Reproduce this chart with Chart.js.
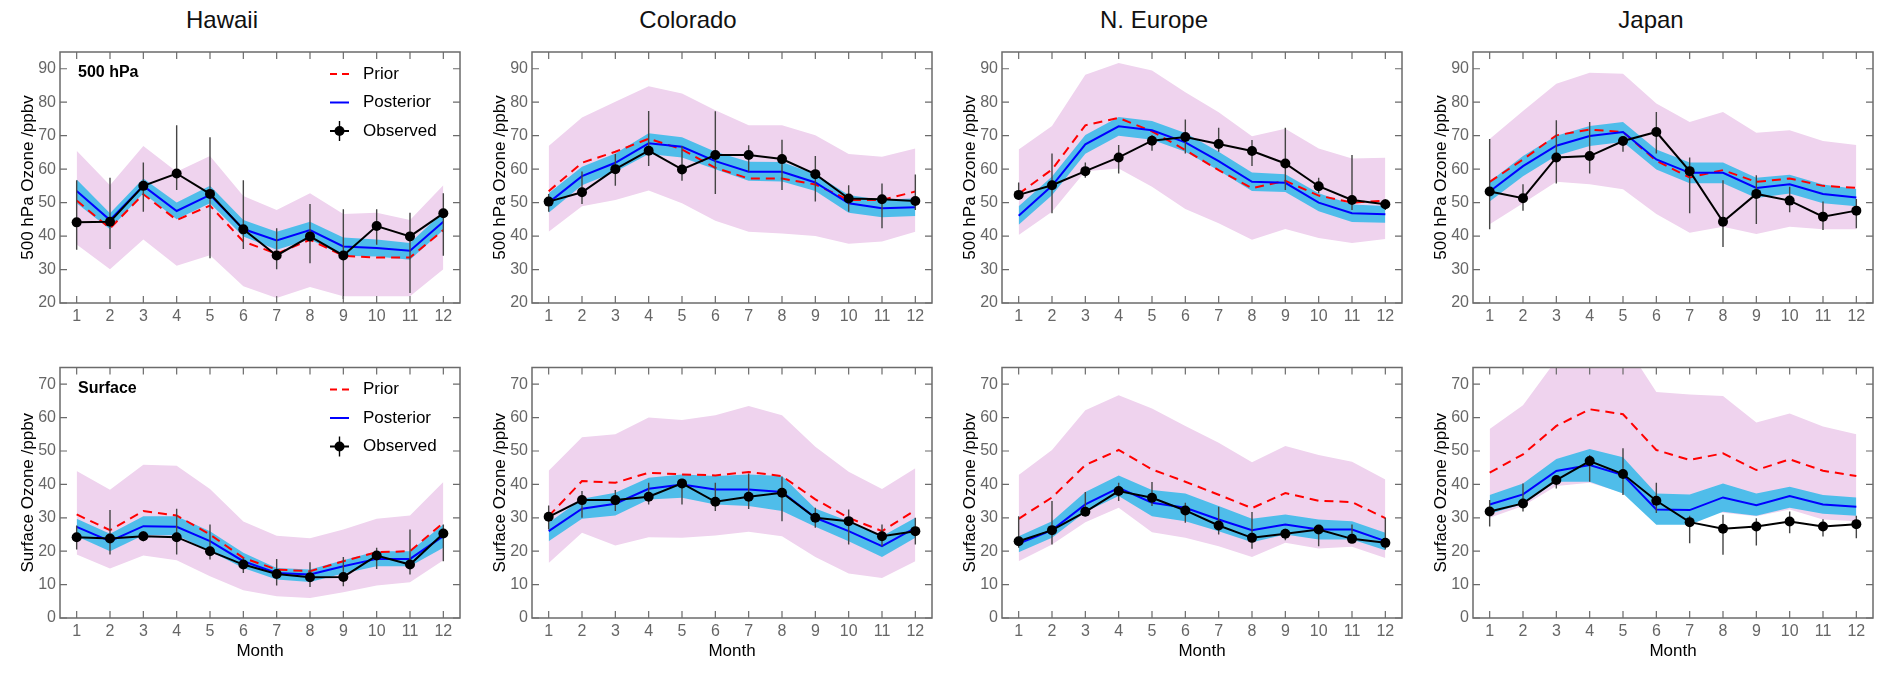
<!DOCTYPE html>
<html><head><meta charset="utf-8">
<script src="https://cdn.jsdelivr.net/npm/chart.js@4.4.1/dist/chart.umd.min.js"></script>
<style>
body{margin:0;background:#fff;width:1892px;height:676px;position:relative;overflow:hidden;font-family:'Liberation Sans',Arial,sans-serif}
canvas{position:absolute}
.ttl{position:absolute;top:6px;font-size:24px;color:#111;transform:translateX(-50%);white-space:nowrap;line-height:28px}
</style></head><body>
<script>
// ---------- DATA ----------
const months = ['1','2','3','4','5','6','7','8','9','10','11','12'];
const regions = ['Hawaii', 'Colorado', 'N. Europe', 'Japan'];
const yTicks500 = [20, 30, 40, 50, 60, 70, 80, 90];
const yTicksSfc = [0, 10, 20, 30, 40, 50, 60, 70];

// Hawaii 500 hPa
const hi500PriorHi = [65.5, 55.2, 66.9, 59.2, 63.9, 52, 47.8, 52.8, 46.6, 47, 44.8, 55.2];
const hi500PriorLo = [37.5, 30.1, 39, 31.1, 34.3, 25, 21.5, 24.8, 22, 22, 22, 30.1];
const hi500PostHi = [56.9, 46.8, 57.2, 50, 55, 44.8, 41.3, 44.3, 39.6, 39, 37.9, 47.3];
const hi500PostLo = [49.8, 42, 52.8, 45, 49.8, 39.9, 35.9, 39, 34.1, 33.9, 32.9, 41.8];
const hi500Prior = [50.6, 42.3, 52.5, 44.8, 49.1, 38.4, 34.7, 38.9, 34.1, 33.6, 33.6, 41.8];
const hi500Post = [53.5, 44.8, 55, 47.5, 52.3, 42.1, 38.7, 41.8, 36.9, 36.4, 35.6, 44.3];
const hi500Obs = [44.1, 44.3, 55, 58.7, 52.6, 42, 34.2, 39.9, 34.2, 43, 39.9, 46.8];
const hi500ObsHi = [56.7, 57.4, 62, 73.1, 69.5, 56.7, 42.3, 49.6, 48, 48, 47, 52.8];
const hi500ObsLo = [35.9, 36.1, 47.3, 53.8, 33.4, 36.1, 30.1, 31.9, 21.2, 37.4, 23, 34.1];

// Colorado 500 hPa
const co500PriorHi = [66.9, 75.4, 80.1, 84.8, 82.6, 77.6, 73.1, 73.1, 70.1, 64.5, 63.7, 66.2];
const co500PriorLo = [41.3, 48.9, 50.8, 53.6, 49.8, 44.6, 41.3, 40.8, 40, 37.7, 38.4, 41.3];
const co500PostHi = [52.8, 60.7, 64.7, 70.7, 69.5, 65.2, 62.2, 62.1, 58.5, 52.3, 50.8, 51.3];
const co500PostLo = [47, 55.2, 59.2, 64.5, 63.5, 60, 56.5, 56.3, 53.5, 47, 45.6, 46];
const co500Prior = [53.4, 61.9, 65.2, 69.1, 65.9, 60.4, 57.2, 57.2, 55.4, 50.8, 50.8, 53.3];
const co500Post = [50, 57.9, 61.9, 67.7, 66.7, 62.4, 59.2, 59.2, 56, 49.8, 48.3, 48.6];
const co500Obs = [50.3, 53.1, 60, 65.5, 59.9, 64.2, 64.2, 63, 58.5, 51.2, 51, 50.5];
const co500ObsHi = [52.6, 59.3, 64.5, 77.4, 66.9, 77.3, 67.1, 68.8, 63.9, 55.2, 55.7, 58.4];
const co500ObsLo = [47.3, 49.6, 55, 60.9, 56.5, 52.6, 59.2, 53.8, 50.3, 47.3, 42.3, 47.8];

// N. Europe 500 hPa
const eu500PriorHi = [65.9, 72.9, 88.2, 91.7, 89.5, 83, 77, 69.8, 72.1, 66.2, 63.2, 63.4];
const eu500PriorLo = [40.3, 47.3, 59.4, 60.2, 54.7, 48.1, 43.8, 38.9, 42.1, 39.4, 37.9, 39.1];
const eu500PostHi = [48.9, 57.8, 70.2, 75.6, 74.4, 70.8, 65.2, 59, 58.5, 52.8, 49.4, 49];
const eu500PostLo = [43.4, 52.2, 64.6, 70, 68.8, 65.2, 59.6, 53.5, 53.2, 47.4, 44.2, 44];
const eu500Prior = [52.6, 59.9, 73.1, 75.3, 71.3, 65.7, 59.7, 54.3, 56.5, 52.1, 50, 50.6];
const eu500Post = [46.1, 55, 67.4, 72.8, 71.6, 68, 62.4, 56.2, 55.9, 50, 46.8, 46.5];
const eu500Obs = [52.3, 55.2, 59.4, 63.5, 68.5, 69.6, 67.5, 65.4, 61.7, 54.9, 50.8, 49.5];
const eu500ObsHi = [56, 64.7, 62, 67.2, 70.2, 74.8, 72.4, 68.7, 72.4, 57.4, 64.2, 51];
const eu500ObsLo = [51, 46.8, 57.4, 58.7, 65.5, 64.7, 65.2, 60.9, 53.8, 52.8, 47.8, 47.8];

// Japan 500 hPa
const jp500PriorHi = [69, 77.4, 85.5, 88.8, 88.5, 79.6, 74.1, 77.1, 70.9, 71.6, 68.4, 67.2];
const jp500PriorLo = [43.5, 49.8, 56.2, 55.5, 54, 46.6, 41, 42.8, 40.6, 42.8, 42, 42];
const jp500PostHi = [56.3, 63.9, 70, 72.9, 74.1, 65.9, 62, 62, 57.4, 58.3, 55.4, 54.1];
const jp500PostLo = [50.3, 57.9, 64, 66.9, 68.1, 59.9, 55.8, 55.8, 51.4, 52.7, 49.8, 48.9];
const jp500Prior = [56.2, 62.9, 70.1, 71.8, 71.1, 62.5, 57.5, 59.7, 56.2, 57.2, 55, 54.4];
const jp500Post = [53.3, 60.9, 67, 69.9, 71.1, 62.9, 58.9, 58.9, 54.4, 55.5, 52.6, 51.5];
const jp500Obs = [53.3, 51.3, 63.5, 63.9, 68.4, 71.1, 59.4, 44.3, 52.6, 50.6, 45.8, 47.6];
const jp500ObsHi = [69, 55.5, 74.6, 74.1, 69.6, 77.1, 63.5, 56.7, 58.2, 54.7, 50.3, 51.1];
const jp500ObsLo = [42, 47.6, 55.7, 58.7, 65.2, 64.7, 46.8, 36.7, 43.6, 47.1, 41.8, 42.3];

// Hawaii surface
const hiSfcPriorHi = [44, 38.4, 45.9, 45.6, 38.6, 28.9, 24.6, 23.9, 26.5, 29.7, 30.7, 40.7];
const hiSfcPriorLo = [19, 14.8, 18.7, 17.3, 12.5, 8.3, 6.5, 6, 7.7, 9.7, 10.7, 17.3];
const hiSfcPostHi = [29.7, 25.2, 30.5, 30.5, 26, 19.5, 15, 14.5, 17.3, 20, 20, 28];
const hiSfcPostLo = [24.5, 20, 24.8, 24.8, 20, 15, 11.5, 10.8, 13.3, 15.5, 15.5, 21];
const hiSfcPrior = [31, 26.3, 32, 30.7, 25, 18, 14.5, 14, 17, 19.7, 20, 28.5];
const hiSfcPost = [27.3, 23, 27.5, 27.3, 23, 17, 13.5, 13, 15.5, 17.7, 17.7, 24.5];
const hiSfcObs = [24.2, 23.8, 24.5, 24.2, 20, 16, 13.2, 12.2, 12.3, 18.7, 16, 25.3];
const hiSfcObsHi = [27.7, 32.3, 26, 32.7, 28, 18, 17.7, 16.7, 18.3, 21, 26.5, 28];
const hiSfcObsLo = [20.5, 19, 23, 19, 17.5, 13.5, 9.7, 9.3, 9.5, 14.7, 13, 17];

// Colorado surface
const coSfcPriorHi = [44.1, 54.1, 55, 60, 59.3, 60.7, 63.5, 60.7, 51.3, 43.8, 38.6, 44.8];
const coSfcPriorLo = [16.5, 25.5, 21.7, 24.2, 24, 24.7, 25.8, 24.5, 18.3, 13.3, 12, 17];
const coSfcPostHi = [28.5, 35.7, 37.5, 42, 43, 42.5, 43, 42.5, 32.8, 29, 24.5, 30];
const coSfcPostLo = [23, 29.7, 30.7, 35.5, 36, 34, 33.5, 32, 27.3, 23, 18.3, 24];
const coSfcPrior = [30.5, 41, 40.5, 43.5, 43, 42.7, 43.7, 42.5, 35.5, 30, 26, 32.3];
const coSfcPost = [26, 32.7, 34.2, 38.7, 40, 38.5, 38.5, 37.7, 30, 26, 21.5, 27];
const coSfcObs = [30.3, 35.3, 35.3, 36.3, 40.3, 34.8, 36.3, 37.5, 30, 29, 24.5, 26];
const coSfcObsHi = [33.7, 38, 38.3, 40.5, 41.5, 40.5, 43.3, 42.3, 33, 32.5, 28, 30];
const coSfcObsLo = [26.5, 30, 32, 34, 34, 32, 32.6, 29, 27, 22, 21.5, 22];

// N. Europe surface
const euSfcPriorHi = [42.8, 50.3, 62.2, 66.7, 62.7, 57.5, 52.5, 46.6, 51.5, 48.8, 46.8, 41.5];
const euSfcPriorLo = [17, 22, 28.7, 33, 25.7, 24, 21.5, 18.3, 22.5, 20.8, 21.3, 18];
const euSfcPostHi = [24.5, 29, 37.7, 42.7, 38.3, 37.3, 33.5, 29.7, 31, 29.5, 29, 25.5];
const euSfcPostLo = [19.7, 24, 31.7, 36.5, 30.5, 29, 26, 22.7, 25, 23.5, 23.5, 20.3];
const euSfcPrior = [29.7, 36.1, 45.8, 50.3, 44.5, 40.8, 36.9, 32.9, 37.4, 35.1, 34.7, 29.9];
const euSfcPost = [22.3, 26.3, 34, 39, 34.5, 33, 29.5, 26.3, 28, 26.5, 26.5, 23];
const euSfcObs = [23, 26.3, 31.8, 38, 36, 32.2, 27.7, 24, 25.2, 26.5, 23.7, 22.5];
const euSfcObsHi = [30.5, 35, 37.7, 40.5, 40.7, 34.5, 33.3, 31.7, 26.7, 27.5, 28, 30];
const euSfcObsLo = [21, 22, 31, 35, 33.5, 28.5, 25, 20.7, 23.3, 21.5, 22.7, 20.5];

// Japan surface
const jpSfcPriorHi = [56.6, 63.7, 77.3, 82, 83, 67.7, 66.9, 66.5, 58.5, 61.2, 57.3, 55];
const jpSfcPriorLo = [30, 33.5, 39.5, 40.5, 37.5, 33.5, 32.8, 31.5, 30.5, 32.5, 29.5, 29];
const jpSfcPostHi = [36.8, 40.3, 47.6, 50.6, 48.1, 37.3, 37, 40.3, 37.3, 39.3, 36.8, 36.1];
const jpSfcPostLo = [31.2, 34.1, 40.8, 40.8, 37.3, 27.9, 27.9, 31.8, 30.6, 33, 31.2, 30.6];
const jpSfcPrior = [43.5, 49, 57.5, 62.5, 61, 50.3, 47.3, 49.3, 44.3, 47.5, 44.1, 42.5];
const jpSfcPost = [34, 37, 44, 45.8, 42.8, 32.5, 32.3, 36.1, 33.8, 36.5, 34, 33.3];
const jpSfcObs = [31.9, 34.3, 41.3, 47, 43.1, 35.1, 28.7, 26.7, 27.4, 28.9, 27.4, 28.1];
const jpSfcObsHi = [35.3, 40.3, 42.8, 48.8, 50.8, 40.5, 30.6, 30.9, 29.9, 31.9, 29.6, 30.6];
const jpSfcObsLo = [27.4, 31.9, 38.8, 40.8, 36.8, 31.4, 22.4, 18.9, 21.7, 25.4, 24.4, 23.9];

// ---------- PANELS ----------
const panels = [
  {row:0,col:0,s:[hi500PriorHi,hi500PriorLo,hi500PostHi,hi500PostLo,hi500Prior,hi500Post,hi500Obs,hi500ObsHi,hi500ObsLo],legend:'500 hPa'},
  {row:0,col:1,s:[co500PriorHi,co500PriorLo,co500PostHi,co500PostLo,co500Prior,co500Post,co500Obs,co500ObsHi,co500ObsLo]},
  {row:0,col:2,s:[eu500PriorHi,eu500PriorLo,eu500PostHi,eu500PostLo,eu500Prior,eu500Post,eu500Obs,eu500ObsHi,eu500ObsLo]},
  {row:0,col:3,s:[jp500PriorHi,jp500PriorLo,jp500PostHi,jp500PostLo,jp500Prior,jp500Post,jp500Obs,jp500ObsHi,jp500ObsLo]},
  {row:1,col:0,s:[hiSfcPriorHi,hiSfcPriorLo,hiSfcPostHi,hiSfcPostLo,hiSfcPrior,hiSfcPost,hiSfcObs,hiSfcObsHi,hiSfcObsLo],legend:'Surface'},
  {row:1,col:1,s:[coSfcPriorHi,coSfcPriorLo,coSfcPostHi,coSfcPostLo,coSfcPrior,coSfcPost,coSfcObs,coSfcObsHi,coSfcObsLo]},
  {row:1,col:2,s:[euSfcPriorHi,euSfcPriorLo,euSfcPostHi,euSfcPostLo,euSfcPrior,euSfcPost,euSfcObs,euSfcObsHi,euSfcObsLo]},
  {row:1,col:3,s:[jpSfcPriorHi,jpSfcPriorLo,jpSfcPostHi,jpSfcPostLo,jpSfcPrior,jpSfcPost,jpSfcObs,jpSfcObsHi,jpSfcObsLo]},
];

const FONT = "'Liberation Sans', Arial, Helvetica, sans-serif";
Chart.defaults.font.family = FONT;

const plotLefts = [60, 531.5, 1001.5, 1472.5];
const titleCenters = [222, 688, 1154, 1651];
regions.forEach((r, i) => {
  const d = document.createElement('div');
  d.className = 'ttl'; d.textContent = r; d.style.left = titleCenters[i] + 'px';
  document.body.appendChild(d);
});

const framePlugin = {
  id: 'frame',
  afterDatasetsDraw(chart) {
    const {ctx, chartArea: a, scales: {x, y}} = chart;
    ctx.save();
    ctx.strokeStyle = '#6b6b6b';
    ctx.lineWidth = 1.2;
    ctx.beginPath();
    const L = 7;
    x.ticks.forEach((t, i) => {
      const px = x.getPixelForTick(i);
      ctx.moveTo(px, a.bottom); ctx.lineTo(px, a.bottom - L);
      ctx.moveTo(px, a.top); ctx.lineTo(px, a.top + L);
    });
    y.ticks.forEach(t => {
      const py = y.getPixelForValue(t.value);
      ctx.moveTo(a.left, py); ctx.lineTo(a.left + L, py);
      ctx.moveTo(a.right, py); ctx.lineTo(a.right - L, py);
    });
    ctx.stroke();
    ctx.lineWidth = 1.5;
    ctx.strokeRect(a.left, a.top, a.right - a.left, a.bottom - a.top);
    ctx.restore();
  }
};

const errPlugin = {
  id: 'errbars',
  beforeDatasetDraw(chart, args, opts) {
    if (args.index !== 6) return;
    const {ctx, scales: {x, y}} = chart;
    ctx.save();
    ctx.strokeStyle = '#454545';
    ctx.lineWidth = 1.4;
    ctx.beginPath();
    opts.hi.forEach((h, i) => {
      const px = x.getPixelForValue(i);
      ctx.moveTo(px, y.getPixelForValue(h));
      ctx.lineTo(px, y.getPixelForValue(opts.lo[i]));
    });
    ctx.stroke();
    ctx.restore();
  }
};

const legendPlugin = {
  id: 'panelLegend',
  afterDatasetsDraw(chart, args, opts) {
    if (!opts.label) return;
    const {ctx, chartArea: a} = chart;
    ctx.save();
    ctx.fillStyle = '#000';
    ctx.textBaseline = 'middle';
    ctx.font = 'bold 16px ' + FONT;
    ctx.fillText(opts.label, a.left + 18, a.top + 21);
    ctx.font = '17px ' + FONT;
    const x0 = a.left + 270, x1 = a.left + 289, tx = a.left + 303;
    const ys = [a.top + 22, a.top + 50.5, a.top + 79];
    ctx.lineWidth = 2;
    ctx.strokeStyle = '#ff0000'; ctx.setLineDash([7, 5]);
    ctx.beginPath(); ctx.moveTo(x0, ys[0]); ctx.lineTo(x1 + 2, ys[0]); ctx.stroke();
    ctx.setLineDash([]);
    ctx.strokeStyle = '#0000ff';
    ctx.beginPath(); ctx.moveTo(x0, ys[1]); ctx.lineTo(x1, ys[1]); ctx.stroke();
    ctx.strokeStyle = '#000';
    ctx.beginPath(); ctx.moveTo(x0, ys[2]); ctx.lineTo(x1, ys[2]); ctx.stroke();
    ctx.lineWidth = 1.4;
    ctx.beginPath(); ctx.moveTo((x0 + x1) / 2, ys[2] - 10); ctx.lineTo((x0 + x1) / 2, ys[2] + 10); ctx.stroke();
    ctx.beginPath(); ctx.arc((x0 + x1) / 2, ys[2], 5, 0, Math.PI * 2); ctx.fill();
    ctx.fillText('Prior', tx, ys[0]);
    ctx.fillText('Posterior', tx, ys[1]);
    ctx.fillText('Observed', tx, ys[2]);
    ctx.restore();
  }
};

panels.forEach(p => {
  const top = p.row === 0;
  const cv = document.createElement('canvas');
  const W = 470, H = top ? 340 : 336;
  cv.width = W; cv.height = H;
  cv.style.width = W + 'px'; cv.style.height = H + 'px';
  cv.style.left = (plotLefts[p.col] - 60) + 'px';
  cv.style.top = (top ? 0 : 340) + 'px';
  document.body.appendChild(cv);
  const [pHi, pLo, qHi, qLo, prior, post, obs, oHi, oLo] = p.s;
  const tickVals = top ? yTicks500 : yTicksSfc;
  const band = (d, c, fill, ord) => ({data: d, borderWidth: 0, pointRadius: 0, backgroundColor: c, fill: fill, order: ord, tension: 0});
  new Chart(cv, {
    type: 'line',
    data: {
      labels: months,
      datasets: [
        band(pHi, '#efd3ee', '+1', 5),
        band(pLo, '#efd3ee', false, 5),
        band(qHi, '#4fbdea', '+1', 4),
        band(qLo, '#4fbdea', false, 4),
        {data: prior, borderColor: '#ff0000', borderWidth: 2, borderDash: [9, 6], pointRadius: 0, fill: false, order: 3},
        {data: post, borderColor: '#0000ff', borderWidth: 2, pointRadius: 0, fill: false, order: 2},
        {data: obs, borderColor: '#000', borderWidth: 2, pointRadius: 5, pointBackgroundColor: '#000', pointBorderWidth: 0, fill: false, order: 1},
      ]
    },
    options: {
      responsive: false,
      animation: false,
      events: [],
      layout: {padding: {left: 0, right: 10, top: top ? 52 : 27.5, bottom: 0}},
      plugins: {
        legend: {display: false},
        tooltip: {enabled: false},
        errbars: {hi: oHi, lo: oLo},
        panelLegend: {label: p.legend || null},
      },
      scales: {
        x: {
          type: 'category',
          offset: true,
          grid: {display: false, drawTicks: false},
          border: {display: false},
          ticks: {color: '#666', font: {size: 16}, padding: 4, maxRotation: 0, autoSkip: false},
          title: {display: !top, text: 'Month', color: '#000', font: {size: 17}, padding: {top: 0, bottom: 14}},
          afterFit: s => { s.height = top ? 37 : 58; }
        },
        y: {
          min: top ? 20 : 0,
          max: top ? 95 : 75,
          grid: {display: false, drawTicks: false},
          border: {display: false},
          afterBuildTicks: s => { s.ticks = tickVals.map(v => ({value: v})); },
          ticks: {color: '#666', font: {size: 16}, padding: 4},
          title: {display: true, text: top ? '500 hPa Ozone /ppbv' : 'Surface Ozone /ppbv', color: '#000', font: {size: 17}, padding: {top: 18, bottom: 0}},
          afterFit: s => { s.width = 60; }
        }
      }
    },
    plugins: [framePlugin, errPlugin, legendPlugin]
  });
});
</script>
</body></html>
